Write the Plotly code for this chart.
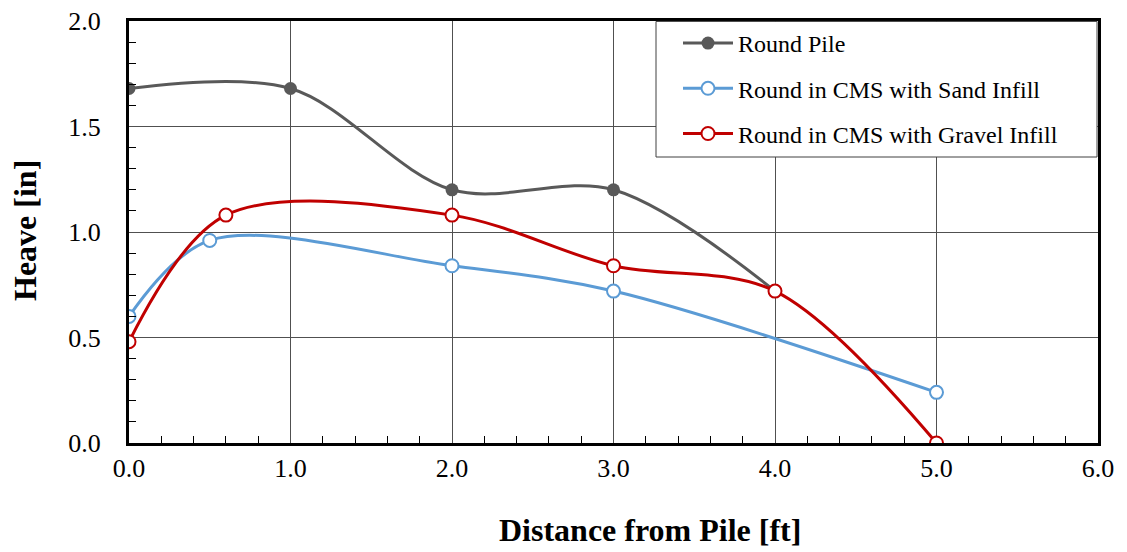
import plotly.graph_objects as go

# Data
pile_x = [0.0, 1.0, 2.0, 3.0, 4.0]
pile_y = [1.68, 1.68, 1.20, 1.20, 0.72]
sand_x = [0.0, 0.5, 2.0, 3.0, 5.0]
sand_y = [0.60, 0.96, 0.84, 0.72, 0.24]
gravel_x = [0.0, 0.6, 2.0, 3.0, 4.0, 5.0]
gravel_y = [0.48, 1.08, 1.08, 0.84, 0.72, 0.00]
names = ["Round Pile", "Round in CMS with Sand Infill", "Round in CMS with Gravel Infill"]
x_title = "Distance from Pile [ft]"
y_title = "Heave [in]"

font = "Liberation Serif, Times New Roman, serif"

# target plot-area edges in page pixels (body margin removed)
PL, PR, PT, PB = 129, 1098, 21, 443
W, H = 1127, 552
L, T = PL, PT
R, B = W - PR, H - PB
pw, ph = PR - PL, PB - PT


def px(x):
    return (x - PL) / pw


def py(y):
    return (PB - y) / ph


fig = go.Figure()
fig.add_trace(go.Scatter(
    x=pile_x, y=pile_y, name=names[0], mode="lines+markers",
    line=dict(color="#595959", width=3, shape="spline", smoothing=0.95),
    marker=dict(symbol="circle", size=13, color="#595959"),
    legendgroup="a"))
fig.add_trace(go.Scatter(
    x=sand_x, y=sand_y, name=names[1], mode="lines+markers",
    line=dict(color="#5B9BD5", width=3, shape="spline", smoothing=0.95),
    marker=dict(symbol="circle", size=13, color="white", line=dict(color="#5B9BD5", width=2)),
    legendgroup="b"))
fig.add_trace(go.Scatter(
    x=gravel_x, y=gravel_y, name=names[2], mode="lines+markers",
    line=dict(color="#C00000", width=3, shape="spline", smoothing=0.95),
    marker=dict(symbol="circle", size=13, color="white", line=dict(color="#C00000", width=2)),
    legendgroup="c"))

# legend box
fig.add_shape(type="rect", xref="paper", yref="paper", x0=px(656), x1=0.999, y0=py(157), y1=0.999,
              fillcolor="white", line=dict(color="#404040", width=1), layer="above")

fig.add_annotation(text="<b>" + x_title + "</b>", xref="paper", yref="paper",
                   x=px(650), y=py(530), xanchor="center", yanchor="middle",
                   showarrow=False, font=dict(family=font, size=32, color="black"))
fig.add_annotation(text="<b>" + y_title + "</b>", xref="paper", yref="paper", textangle=-90,
                   x=px(25), y=py(231), xanchor="center", yanchor="middle",
                   showarrow=False, font=dict(family=font, size=32, color="black"))

fig.update_layout(
    width=W, height=H,
    margin=dict(l=L, r=R, t=T, b=B),
    paper_bgcolor="white", plot_bgcolor="white",
    font=dict(family=font, size=24, color="black"),
    showlegend=True,
    legend=dict(x=px(678), y=py(21), xanchor="left", yanchor="top",
                bgcolor="rgba(0,0,0,0)", borderwidth=0,
                font=dict(family=font, size=24, color="black"),
                tracegroupgap=11, itemwidth=50),
    xaxis=dict(
        range=[0, 6], dtick=1.0, tick0=0, tickformat=".1f",
        showgrid=True, gridcolor="#505050", gridwidth=1,
        showline=True, linecolor="black", linewidth=3, mirror=True,
        ticks="", zeroline=False, automargin=False, ticklabelstandoff=0,
        minor=dict(dtick=0.2, ticks="inside", ticklen=7, tickcolor="black", tickwidth=1, showgrid=False),
        tickfont=dict(family=font, size=26),
    ),
    yaxis=dict(
        range=[0, 2], dtick=0.5, tick0=0, tickformat=".1f",
        showgrid=True, gridcolor="#505050", gridwidth=1,
        showline=True, linecolor="black", linewidth=3, mirror=True,
        ticks="", zeroline=False, automargin=False, ticklabelstandoff=20,
        minor=dict(dtick=0.1, ticks="inside", ticklen=7, tickcolor="black", tickwidth=1, showgrid=False),
        tickfont=dict(family=font, size=26),
    ),
)

fig.write_html("out.html", config={"displayModeBar": False},
               post_script="document.body.style.margin='0px';")
